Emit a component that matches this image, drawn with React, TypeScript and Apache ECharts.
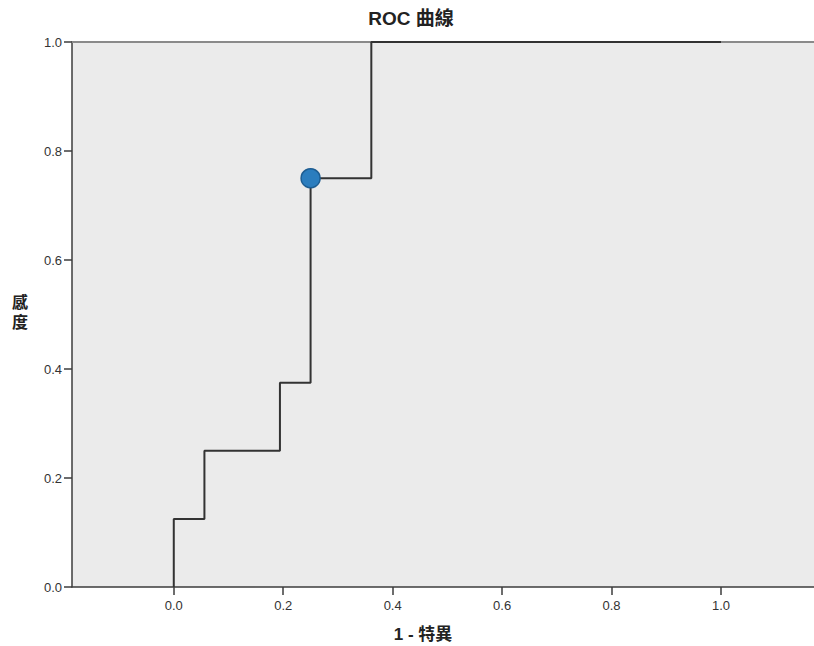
import React, { useEffect, useRef } from "react";
import * as echarts from "echarts";

// ROC step curve corners (1 - specificity, sensitivity)
const fpr = [0, 0, 0.056, 0.056, 0.194, 0.194, 0.25, 0.25, 0.361, 0.361, 1.0];
const tpr = [0, 0.125, 0.125, 0.25, 0.25, 0.375, 0.375, 0.75, 0.75, 1.0, 1.0];
// highlighted cut-off point
const cutoffPoint = [0.25, 0.75];
const xTickValues = [0, 0.2, 0.4, 0.6, 0.8, 1.0];

const titleText = "ROC 曲線";
const xName = "1 - 特異";
const yName = "感\n度";

export default function App() {
  const ref = useRef<HTMLDivElement>(null);
  useEffect(() => {
    if (!ref.current) return;
    const chart = echarts.init(ref.current, undefined, { renderer: "svg" });
    const labelFont = "'Liberation Sans Narrow', 'Liberation Sans', Arial, sans-serif";
    const boldFont = "'Liberation Sans', 'Noto Sans CJK TC', 'Noto Sans CJK JP', sans-serif";
    chart.setOption({
      animation: false,
      backgroundColor: "#ffffff",
      grid: {
        left: 72,
        right: 0,
        top: 42,
        bottom: 59,
        show: true,
        backgroundColor: "#ebebeb",
        borderWidth: 0,
      },
      xAxis: [
        {
          type: "value",
          min: -0.186,
          max: 1.17,
          axisLine: { show: true, onZero: false, lineStyle: { color: "#3c3c3c", width: 1.5 } },
          axisTick: { show: true, customValues: xTickValues, length: 8, lineStyle: { color: "#3c3c3c", width: 1.5 } },
          axisLabel: {
            customValues: xTickValues,
            formatter: (v: number) => v.toFixed(1),
            color: "#333",
            fontSize: 13,
            fontFamily: labelFont,
            margin: 12,
          },
          splitLine: { show: false },
        },
        {
          type: "value",
          position: "top",
          min: -0.186,
          max: 1.17,
          axisLine: { show: true, onZero: false, lineStyle: { color: "#8a8a8a", width: 2 } },
          axisTick: { show: false },
          axisLabel: { show: false },
          splitLine: { show: false },
        },
      ],
      yAxis: {
        type: "value",
        min: 0,
        max: 1,
        interval: 0.2,
        axisLine: { show: true, onZero: false, lineStyle: { color: "#3c3c3c", width: 1.5 } },
        axisTick: { show: true, length: 8, lineStyle: { color: "#3c3c3c", width: 1.5 } },
        axisLabel: {
          formatter: (v: number) => v.toFixed(1),
          color: "#333",
          fontSize: 13,
          fontFamily: labelFont,
          margin: 10,
        },
        splitLine: { show: false },
      },
      series: [
        {
          type: "line",
          data: fpr.map((x, i) => [x, tpr[i]]),
          showSymbol: false,
          symbol: "none",
          clip: false,
          lineStyle: { color: "#333333", width: 2 },
          z: 3,
        },
        {
          type: "scatter",
          data: [cutoffPoint],
          symbolSize: 19,
          itemStyle: { color: "#2b7dbe", borderColor: "#1d5d92", borderWidth: 1.5, opacity: 1 },
          z: 4,
        },
      ],
      graphic: [
        {
          type: "text",
          x: 411,
          y: 9,
          style: {
            text: titleText,
            fill: "#222",
            font: `bold 19px ${boldFont}`,
            textAlign: "center",
          },
        },
        {
          type: "text",
          x: 423,
          y: 626,
          style: {
            text: xName,
            fill: "#222",
            font: `bold 17px ${boldFont}`,
            textAlign: "center",
          },
        },
        {
          type: "text",
          x: 20,
          y: 292,
          style: {
            text: yName,
            fill: "#222",
            font: `bold 16px ${boldFont}`,
            textAlign: "center",
            lineHeight: 20,
          },
        },
      ],
    });
    return () => chart.dispose();
  }, []);
  return (
    <div
      ref={ref}
      style={{ position: "absolute", left: 0, top: 0, width: 814, height: 646 }}
    />
  );
}
